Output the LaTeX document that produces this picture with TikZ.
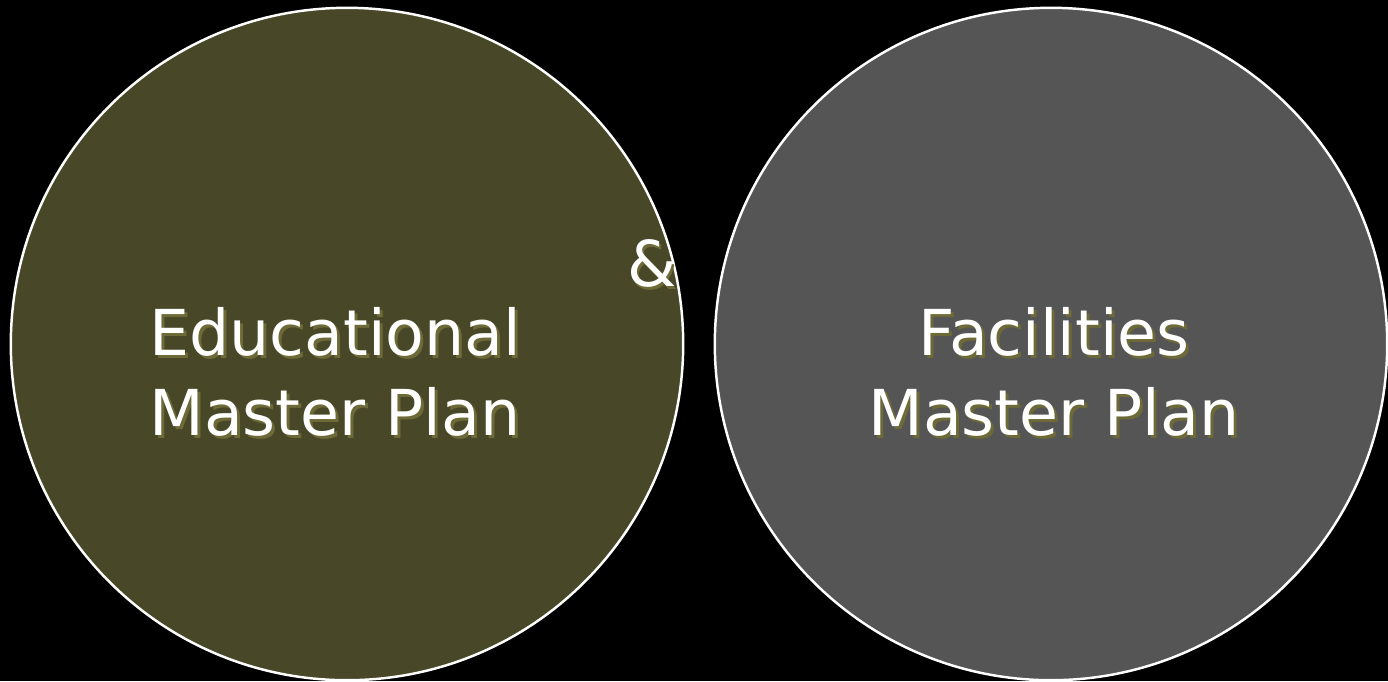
\documentclass[tikz,border=0pt]{standalone}
\usepackage{fontspec}
\setmainfont{DejaVu Sans}
\usetikzlibrary{positioning}

\definecolor{eduolive}{RGB}{72,72,40}
\definecolor{facgrey}{RGB}{85,85,85}
\definecolor{shadowolive}{RGB}{110,106,56}

\tikzset{
  plan/.style={circle, draw=white, line width=0.7pt, inner sep=0pt, minimum size=6.72cm},
  plantext/.style={text=white, align=center, font=\fontsize{18}{22.8}\selectfont},
  planshadow/.style={plantext, text=shadowolive}
}

\begin{document}
\begin{tikzpicture}[x=0.01cm, y=-0.01cm]
  \fill[black] (0,0) rectangle (1388,681);
  \useasboundingbox (0,0) rectangle (1388,681);

  \node (edu) [plan, fill=eduolive] at (347,344) {};
  \node (fac) [plan, fill=facgrey] at (1051,344) {};

  % text with a small shadow behind it
  \node [planshadow] at (338,375) {Educational\\Master Plan};
  \node (edutext) [plantext] at (335,372) {Educational\\Master Plan};

  \node [planshadow] at (1057,375) {Facilities\\Master Plan};
  \node (factext) [plantext] at (1054,372) {Facilities\\Master Plan};

  \node [planshadow] at (654,266) {\&};
  \node (amp) [plantext] at (652,263) {\&};
\end{tikzpicture}
\end{document}
